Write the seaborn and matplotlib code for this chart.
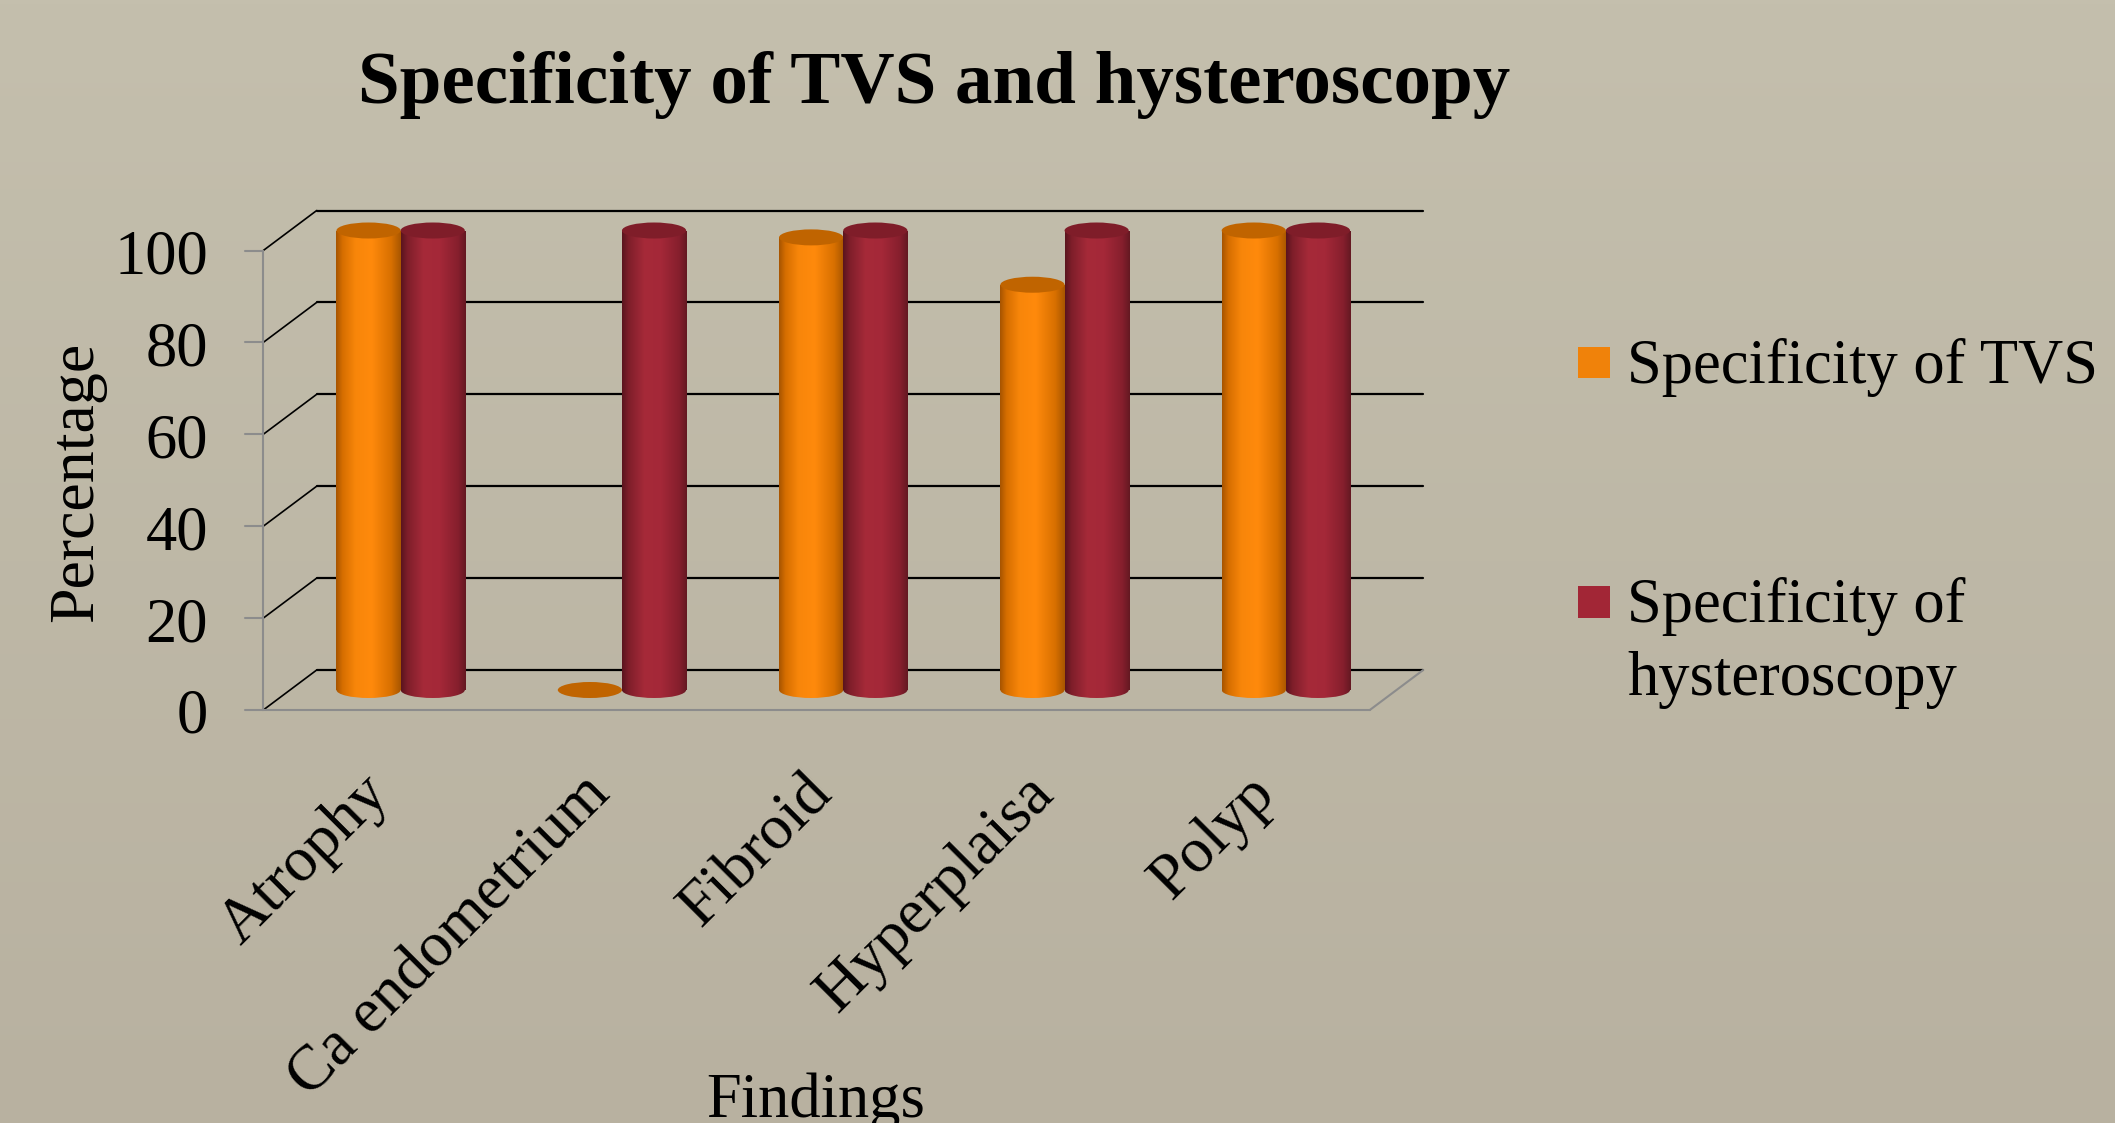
import numpy as np
import pandas as pd
import matplotlib
matplotlib.use("Agg")
import matplotlib.pyplot as plt
import seaborn as sns
from matplotlib.patches import Ellipse, Rectangle
from matplotlib.colors import LinearSegmentedColormap

# data
findings = ["Atrophy", "Ca endometrium", "Fibroid", "Hyperplaisa", "Polyp"]
tvs = [100, 0, 98.5, 88.2, 100]
hysteroscopy = [100, 100, 100, 100, 100]
series_names = ["Specificity of TVS", "Specificity of hysteroscopy"]
yticks = [0, 20, 40, 60, 80, 100]

df = pd.DataFrame({
    "Findings": findings * 2,
    "Percentage": tvs + hysteroscopy,
    "Series": [series_names[0]] * len(findings) + [series_names[1]] * len(findings),
})

W, H = 2115, 1123
sns.set_theme(style="white")
plt.rcParams["font.family"] = ["Liberation Serif", "DejaVu Serif"]
plt.rcParams["text.color"] = "black"

fig = plt.figure(figsize=(W / 100, H / 100), dpi=100)

# background gradient
bg = fig.add_axes([0, 0, 1, 1], zorder=-10)
bg_cmap = LinearSegmentedColormap.from_list("bg", ["#b8b1a0", "#c4bfad"])
bg.imshow(np.linspace(0, 1, 256).reshape(-1, 1)[::-1], cmap=bg_cmap, aspect="auto",
          extent=[0, 1, 0, 1])
bg.axis("off")

# main axes = middle depth plane of the 3d box
ax = fig.add_axes([290 / W, (H - 690) / H, 1106.5 / W, 459.5 / H])
ax.set_facecolor("none")
sns.barplot(data=df, x="Findings", y="Percentage", hue="Series",
            palette=["#ff8a0c", "#a52a38"], width=0.58, saturation=1,
            ax=ax, legend=False)

px_x = 1106.5 / 5    # pixels per category
px_y = 459.5 / 100   # pixels per percent
dx = 26.7 / px_x
dy = 20 / px_y

# back wall gridlines + diagonals
for v in yticks:
    ax.plot([-0.5 + dx, 4.5 + dx], [v + dy, v + dy], color="black", lw=1.6,
            clip_on=False, zorder=1)
    ax.plot([-0.5 - dx, -0.5 + dx], [v - dy, v + dy], color="black", lw=1.2,
            clip_on=False, zorder=1)
    ax.plot([-0.5 - dx - 0.081, -0.5 - dx], [v - dy, v - dy], color="#8c8c8c", lw=1.5,
            clip_on=False, zorder=1)
    ax.text(-0.5 - dx - 0.249, v - dy - 5.0, str(v), ha="right", va="baseline",
            fontsize=45, clip_on=False)

# front axis and floor edges
ax.plot([-0.5 - dx, -0.5 - dx], [-dy, 100 - dy], color="#8c8c8c", lw=1.5, clip_on=False, zorder=1)
ax.plot([-0.5 - dx, 4.5 - dx], [-dy, -dy], color="#8c8c8c", lw=1.5, clip_on=False, zorder=1)
ax.plot([4.5 - dx, 4.5 + dx], [-dy, dy], color="#8c8c8c", lw=1.5, clip_on=False, zorder=1)

# cylinder shading
cmaps = [
    LinearSegmentedColormap.from_list("o", [(0, "#a65400"), (0.1, "#d66e00"), (0.3, "#f8860a"),
                                            (0.55, "#ff8a0c"), (0.85, "#d87000"), (1, "#a85600")]),
    LinearSegmentedColormap.from_list("r", [(0, "#5a141e"), (0.1, "#7e1e2a"), (0.35, "#a62a39"),
                                            (0.6, "#a42838"), (0.88, "#861f2d"), (1, "#641822")]),
]
top_colors = ["#c06400", "#7f1d29"]
e = 16 / px_y
grad = np.linspace(0, 1, 256).reshape(1, -1)

for k, cont in enumerate(ax.containers):
    for bar in cont:
        x0, w, h = bar.get_x(), bar.get_width(), bar.get_height()
        bar.set_facecolor("none")
        bar.set_edgecolor("none")
        if h > 0:
            body = Rectangle((x0, 0), w, h, transform=ax.transData)
            im = ax.imshow(grad, cmap=cmaps[k], aspect="auto", extent=[x0, x0 + w, 0, h],
                           zorder=2 + k, interpolation="bilinear")
            im.set_clip_path(body)
            bottom = Ellipse((x0 + w / 2, 0), w, e, transform=ax.transData)
            im2 = ax.imshow(grad, cmap=cmaps[k], aspect="auto",
                            extent=[x0, x0 + w, -e / 2, e / 2], zorder=2 + k,
                            interpolation="bilinear")
            im2.set_clip_path(bottom)
            im2.set_clip_box(fig.bbox)
        ax.add_patch(Ellipse((x0 + w / 2, h), w, e, facecolor=top_colors[k],
                             edgecolor="none", zorder=2.5 + k, clip_on=False))

# category labels
for i, name in enumerate(findings):
    ax.text(i - 0.183, -16.3, name, rotation=45, rotation_mode="anchor",
            ha="right", va="top", fontsize=46, clip_on=False)

ax.set_xlim(-0.5, 4.5)
ax.set_ylim(0, 100)
ax.axis("off")

# titles and axis names
fig.text(934 / W, 1 - 103 / H, "Specificity of TVS and hysteroscopy", fontsize=54,
         fontweight="bold", ha="center", va="baseline")
fig.text(77 / W, 1 - 482 / H, "Percentage", rotation=90, fontsize=46,
         ha="center", va="center")
fig.text(816 / W, 1 - 1117 / H, "Findings", fontsize=45, ha="center", va="baseline")

# legend
leg_colors = ["#f0820a", "#a22636"]
fig.add_artist(Rectangle((1578 / W, 1 - 378 / H), 32 / W, 31 / H, transform=fig.transFigure,
                         facecolor=leg_colors[0], edgecolor="none"))
fig.text(1627 / W, 1 - 383 / H, series_names[0], fontsize=45, va="baseline")
fig.add_artist(Rectangle((1578 / W, 1 - 618 / H), 32 / W, 32 / H, transform=fig.transFigure,
                         facecolor=leg_colors[1], edgecolor="none"))
fig.text(1627 / W, 1 - 622 / H, "Specificity of", fontsize=45, va="baseline")
fig.text(1627 / W, 1 - 695 / H, "hysteroscopy", fontsize=45, va="baseline")

fig.savefig("out.png", dpi=100)
